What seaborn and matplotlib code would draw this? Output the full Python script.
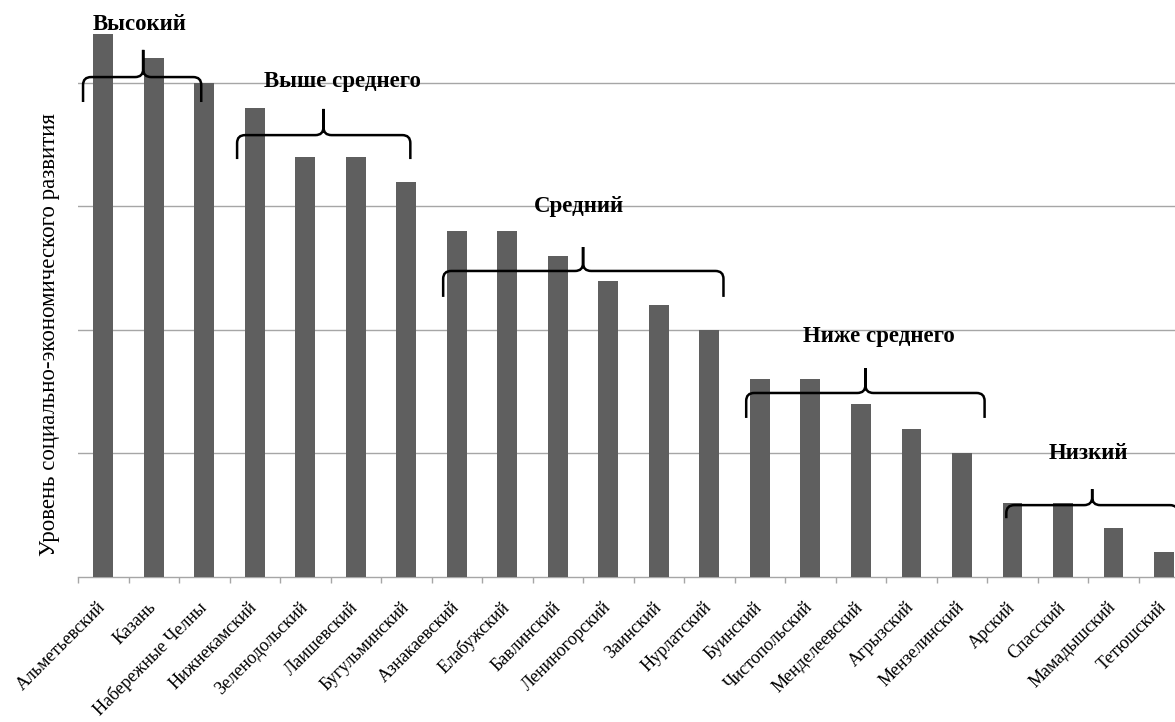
import matplotlib.pyplot as plt
import numpy as np
import pandas as pd
import seaborn as sns
from matplotlib.path import Path
from matplotlib.patches import PathPatch

# Districts and their level of socio-economic development
districts = ['Альметьевский', 'Казань', 'Набережные Челны', 'Нижнекамский',
             'Зеленодольский', 'Лаишевский', 'Бугульминский', 'Азнакаевский',
             'Елабужский', 'Бавлинский', 'Лениногорский', 'Заинский',
             'Нурлатский', 'Буинский', 'Чистопольский', 'Менделеевский',
             'Агрызский', 'Мензелинский', 'Арский', 'Спасский',
             'Мамадышский', 'Тетюшский']
values = [22, 21, 20, 19, 17, 17, 16, 14, 14, 13, 12, 11, 10,
          8, 8, 7, 6, 5, 3, 3, 2, 1]

# Groups: name, brace (left, middle, right), brace (bottom, level, top), label position
group_names = ['Высокий', 'Выше среднего', 'Средний', 'Ниже среднего', 'Низкий']
brace_x = [(-0.40, 0.79, 1.94), (2.65, 4.36, 6.08), (6.73, 9.50, 12.28),
           (12.73, 15.09, 17.45), (17.88, 19.58, 21.28)]
brace_y = [(19.23, 20.24, 21.34), (16.92, 17.89, 18.95), (11.34, 12.39, 13.36),
           (6.44, 7.45, 8.46), (2.38, 2.91, 3.56)]
label_pos = [(0.73, 22.35), (4.73, 20.08), (9.41, 15.02), (15.35, 9.72), (19.5, 5.0)]

df = pd.DataFrame({'district': districts, 'value': values})

plt.rcParams['font.family'] = ['Liberation Serif', 'DejaVu Serif']

fig = plt.figure(figsize=(11.75, 7.22), dpi=100)
ax = fig.add_axes([78 / 1175, 145 / 722, 1097 / 1175, 577 / 722])

sns.barplot(data=df, x='district', y='value', color='#5f5f5f', saturation=1,
            width=0.39, ax=ax, zorder=3)

ax.set_xlim(-0.5, 21.22)
ax.set_ylim(0, 23.36)
ax.set_yticks([5, 10, 15, 20])
ax.set_yticklabels([])
ax.tick_params(axis='y', length=0)
ax.grid(axis='y', color='#a6a6a6', linewidth=1.0, zorder=0)
ax.set_axisbelow(True)

for side in ['top', 'right', 'left']:
    ax.spines[side].set_visible(False)
ax.spines['bottom'].set_color('#a6a6a6')
ax.spines['bottom'].set_linewidth(1.0)

# category labels at centres, tick marks between categories
ax.set_xticks(np.arange(len(districts)))
ax.set_xticklabels(districts, rotation=45, ha='right', va='center',
                   rotation_mode='anchor', fontsize=13)
ax.tick_params(axis='x', which='major', length=0, pad=20)
ax.set_xticks(np.arange(len(districts)) - 0.5, minor=True)
ax.tick_params(axis='x', which='minor', length=4, color='#a6a6a6', width=1.0)
ax.set_xlabel('')

ax.set_ylabel('Уровень социально-экономического развития', fontsize=16.5)
ax.yaxis.set_label_coords(-18 / 1097, 0.42)

# curly braces over the groups
rx, ry = 0.16, 0.32
for (x0, xm, x1), (yb, yh, yt) in zip(brace_x, brace_y):
    verts = [(x0, yb), (x0, yh - ry), (x0, yh), (x0 + rx, yh),
             (xm - rx, yh), (xm, yh), (xm, yh + ry), (xm, yt),
             (xm, yt), (xm, yh + ry), (xm, yh), (xm + rx, yh),
             (x1 - rx, yh), (x1, yh), (x1, yh - ry), (x1, yb)]
    codes = [Path.MOVETO, Path.LINETO, Path.CURVE3, Path.CURVE3,
             Path.LINETO, Path.CURVE3, Path.CURVE3, Path.LINETO,
             Path.MOVETO, Path.LINETO, Path.CURVE3, Path.CURVE3,
             Path.LINETO, Path.CURVE3, Path.CURVE3, Path.LINETO]
    ax.add_patch(PathPatch(Path(verts, codes), facecolor='none',
                           edgecolor='black', linewidth=1.8, zorder=4))

for name, (tx, ty) in zip(group_names, label_pos):
    ax.text(tx, ty, name, ha='center', va='center', fontsize=16.5,
            fontweight='bold', zorder=5)

fig.savefig('out.png', dpi=100)
